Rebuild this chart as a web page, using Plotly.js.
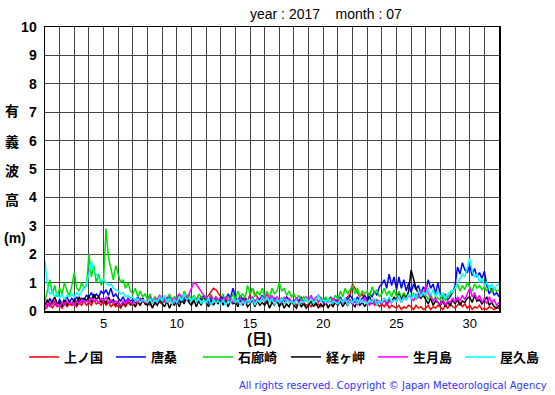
<!DOCTYPE html>
<html><head><meta charset="utf-8">
<script src="https://cdn.plot.ly/plotly-3.0.1.min.js"></script>
<style>html,body{margin:0;padding:0;background:#fff;}</style>
</head><body><div id="chart" style="width:555px;height:395px;"></div>
<script>
// Significant wave height, July 2017, sampled every 4 hours (6 per day), from day 1.0 to day 32.0
const stations = ["上ノ国", "唐桑", "石廊崎", "経ヶ岬", "生月島", "屋久島"];
const colors = ["#ff0000", "#0000ff", "#00dd00", "#000000", "#ff00ff", "#00ffff"];
const legendGroups = ["legend", "legend", "legend", "legend2", "legend2", "legend2"];
const samplesPerDay = 6;
const startDay = 1;
const xTickVals = [5, 10, 15, 20, 25, 30];
const xTickText = ["5", "10", "15", "20", "25", "30"];
const yTickVals = [0,1,2,3,4,5,6,7,8,9,10];

const kaminokuni = [
0.05,0.15,0.3,0.1,0.25,0.15, 0.2,0.1,0.3,0.15,0.25,0.2, 0.25,0.15,0.3,0.2,0.35,0.2, 0.3,0.2,0.4,0.25,0.3,0.2,
0.35,0.2,0.3,0.15,0.25,0.15, 0.2,0.1,0.25,0.15,0.3,0.2, 0.25,0.15,0.3,0.2,0.35,0.25, 0.3,0.2,0.4,0.25,0.35,0.3,
0.25,0.4,0.3,0.45,0.35,0.3, 0.35,0.45,0.3,0.5,0.4,0.35, 0.4,0.3,0.45,0.35,0.5,0.4, 0.45,0.55,0.7,0.8,0.75,0.6,
0.5,0.4,0.45,0.35,0.4,0.3, 0.35,0.25,0.4,0.3,0.45,0.35, 0.55,0.8,0.6,0.5,0.4,0.45, 0.35,0.5,0.3,0.45,0.35,0.4,
0.3,0.45,0.25,0.4,0.3,0.35, 0.3,0.2,0.35,0.25,0.3,0.2, 0.25,0.15,0.3,0.2,0.25,0.15, 0.2,0.3,0.15,0.25,0.2,0.3,
0.25,0.35,0.3,0.4,0.5,0.6, 0.95,0.8,0.7,0.5,0.6,0.4, 0.35,0.25,0.4,0.2,0.3,0.15, 0.25,0.15,0.3,0.1,0.2,0.15,
0.1,0.2,0.05,0.15,0.1,0.2, 0.15,0.05,0.2,0.1,0.15,0.05, 0.1,0.2,0.05,0.15,0.1,0.2, 0.15,0.05,0.2,0.1,0.25,0.15,
0.1,0.2,0.3,0.15,0.25,0.1, 0.2,0.05,0.15,0.1,0.2,0.05, 0.1,0.05,0.15,0.1,0.05,0.1, 0.1];

const karakuwa = [
0.3,0.2,0.45,0.25,0.35,0.2, 0.4,0.25,0.35,0.5,0.3,0.45, 0.35,0.5,0.3,0.45,0.4,0.55, 0.5,0.65,0.45,0.6,0.5,0.7,
0.6,0.75,0.55,0.8,0.5,0.6, 0.45,0.35,0.5,0.3,0.45,0.35, 0.4,0.3,0.5,0.35,0.45,0.3, 0.35,0.5,0.3,0.45,0.25,0.4,
0.3,0.45,0.35,0.5,0.3,0.4, 0.45,0.3,0.5,0.35,0.55,0.4, 0.35,0.5,0.3,0.45,0.4,0.55, 0.4,0.3,0.5,0.35,0.45,0.3,
0.35,0.5,0.4,0.6,0.45,0.8, 0.5,0.35,0.55,0.4,0.5,0.3, 0.35,0.5,0.3,0.45,0.4,0.55, 0.4,0.3,0.5,0.35,0.45,0.3,
0.35,0.45,0.3,0.5,0.4,0.35, 0.3,0.45,0.35,0.5,0.3,0.4, 0.35,0.5,0.3,0.45,0.55,0.4, 0.3,0.45,0.35,0.5,0.3,0.4,
0.35,0.5,0.3,0.45,0.4,0.55, 0.4,0.3,0.5,0.35,0.45,0.55, 0.4,0.6,0.5,0.7,0.55,0.85, 0.95,1.1,0.8,1.3,0.9,1.2,
0.75,1.2,0.8,1.1,0.7,1.0, 0.65,0.95,0.75,0.9,0.6,0.85, 0.7,1.1,0.8,0.95,0.6,1.0, 0.55,0.45,0.6,0.4,0.5,0.65,
0.9,1.55,1.3,1.7,1.45,1.35, 1.6,1.25,1.5,1.2,1.35,1.15, 1.4,0.9,0.6,0.8,0.55,0.65, 0.5];

const irozaki = [
0.35,0.7,1.1,0.6,0.9,0.5, 0.8,0.6,1.0,0.7,0.55,0.9, 1.35,0.8,0.7,1.0,0.8,0.9, 2.0,1.2,1.6,1.0,1.3,0.9,
1.1,2.9,1.9,1.5,1.1,1.6, 1.3,1.0,1.1,0.8,1.0,0.7, 0.6,0.8,0.5,0.7,0.5,0.6, 0.4,0.6,0.35,0.5,0.4,0.55,
0.3,0.5,0.4,0.6,0.35,0.5, 0.45,0.6,0.4,0.7,0.5,0.6, 0.4,0.55,0.35,0.6,0.5,0.4, 0.5,0.35,0.6,0.4,0.5,0.3,
0.45,0.6,0.3,0.5,0.4,0.6, 0.4,0.7,0.5,0.6,0.45,0.9, 0.6,0.8,0.5,0.7,0.55,0.8, 0.5,0.7,0.45,0.8,0.6,0.7,
1.0,0.7,0.8,0.55,0.7,0.5, 0.6,0.4,0.55,0.35,0.5,0.4, 0.3,0.5,0.35,0.45,0.3,0.5, 0.35,0.5,0.3,0.45,0.4,0.55,
0.4,0.7,0.5,0.8,0.6,0.75, 0.9,0.6,0.8,0.5,0.7,0.6, 0.7,0.5,0.85,0.6,0.75,0.5, 0.6,0.8,0.55,0.7,0.5,0.75,
0.5,0.7,0.45,0.65,0.5,0.6, 0.45,0.65,0.4,0.6,0.5,0.7, 0.55,0.4,0.6,0.35,0.5,0.45, 0.4,0.55,0.35,0.5,0.6,0.7,
0.8,0.95,0.7,0.9,0.75,1.0, 0.85,0.7,0.95,0.8,0.9,0.75, 0.85,0.7,0.9,0.65,0.8,0.7, 0.75];

const kyogamisaki = [
0.2,0.4,0.15,0.35,0.5,0.25, 0.3,0.15,0.45,0.2,0.35,0.25, 0.4,0.2,0.5,0.3,0.45,0.35, 0.55,0.3,0.6,0.4,0.5,0.3,
0.45,0.25,0.5,0.3,0.4,0.2, 0.35,0.15,0.3,0.2,0.4,0.25, 0.3,0.15,0.35,0.2,0.45,0.25, 0.2,0.35,0.1,0.3,0.2,0.4,
0.25,0.15,0.35,0.1,0.3,0.2, 0.35,0.15,0.4,0.25,0.5,0.3, 0.2,0.4,0.15,0.35,0.2,0.45, 0.3,0.15,0.4,0.2,0.35,0.25,
0.5,0.2,0.4,0.15,0.35,0.25, 0.3,0.15,0.4,0.2,0.35,0.15, 0.25,0.4,0.15,0.35,0.2,0.3, 0.2,0.35,0.1,0.3,0.2,0.4,
0.15,0.3,0.1,0.25,0.15,0.35, 0.2,0.1,0.3,0.15,0.25,0.1, 0.2,0.35,0.15,0.3,0.1,0.25, 0.15,0.3,0.1,0.25,0.15,0.3,
0.2,0.35,0.15,0.3,0.2,0.4, 0.25,0.15,0.35,0.2,0.3,0.15, 0.3,0.5,0.25,0.4,0.2,0.35, 0.25,0.45,0.2,0.4,0.3,0.5,
0.35,0.6,0.4,0.55,0.45,0.7, 1.45,1.1,0.8,0.6,0.45,0.55, 0.4,0.25,0.45,0.2,0.35,0.3, 0.2,0.35,0.15,0.3,0.2,0.4,
0.25,0.4,0.2,0.35,0.3,0.45, 0.5,0.3,0.55,0.35,0.4,0.25, 0.35,0.5,0.2,0.3,0.15,0.1, 0.2];

const ikitsukishima = [
0.1,0.3,0.15,0.25,0.35,0.2, 0.15,0.3,0.2,0.35,0.25,0.3, 0.2,0.35,0.25,0.4,0.3,0.35, 0.3,0.45,0.35,0.4,0.3,0.45,
0.35,0.5,0.3,0.4,0.25,0.35, 0.3,0.2,0.35,0.25,0.4,0.3, 0.25,0.4,0.3,0.45,0.35,0.3, 0.35,0.5,0.3,0.45,0.4,0.55,
0.4,0.3,0.5,0.35,0.45,0.3, 0.45,0.6,0.5,0.55,0.4,0.6, 0.75,1.0,0.95,0.8,0.65,0.55, 0.5,0.4,0.55,0.35,0.5,0.4,
0.45,0.3,0.5,0.35,0.45,0.3, 0.4,0.3,0.45,0.25,0.35,0.3, 0.35,0.5,0.3,0.45,0.35,0.4, 0.45,0.6,0.4,0.55,0.35,0.5,
0.4,0.3,0.5,0.35,0.45,0.3, 0.35,0.45,0.25,0.4,0.3,0.5, 0.4,0.55,0.35,0.5,0.3,0.45, 0.35,0.25,0.4,0.3,0.45,0.35,
0.3,0.45,0.25,0.4,0.3,0.35, 0.25,0.4,0.2,0.35,0.3,0.45, 0.3,0.2,0.35,0.25,0.4,0.3, 0.25,0.4,0.2,0.35,0.3,0.4,
0.35,0.5,0.3,0.45,0.4,0.55, 0.5,0.35,0.6,0.45,0.7,0.55, 0.9,0.6,0.5,0.35,0.45,0.3, 0.25,0.4,0.2,0.35,0.3,0.45,
0.3,0.5,0.35,0.55,0.4,0.6, 0.8,0.5,0.65,0.4,0.55,0.3, 0.45,0.25,0.5,0.3,0.4,0.2, 0.3];

const yakushima = [
1.75,0.9,0.6,0.7,0.5,0.65, 0.45,0.6,0.4,0.55,0.5,0.6, 0.5,0.65,0.55,0.7,0.8,0.95, 1.3,1.75,1.4,1.3,1.15,1.05,
1.1,1.0,0.9,0.95,0.8,0.75, 0.7,0.6,0.65,0.5,0.55,0.45, 0.5,0.35,0.45,0.3,0.4,0.35, 0.3,0.45,0.25,0.4,0.3,0.5,
0.35,0.55,0.3,0.45,0.25,0.4, 0.3,0.5,0.35,0.6,0.4,0.45, 0.35,0.5,0.3,0.45,0.25,0.4, 0.3,0.45,0.2,0.4,0.3,0.35,
0.25,0.4,0.2,0.35,0.3,0.45, 0.3,0.4,0.2,0.35,0.25,0.4, 0.3,0.45,0.2,0.4,0.3,0.5, 0.35,0.5,0.3,0.45,0.2,0.4,
0.3,0.45,0.25,0.4,0.3,0.35, 0.25,0.4,0.2,0.35,0.3,0.45, 0.3,0.45,0.25,0.4,0.55,0.35, 0.4,0.3,0.45,0.25,0.35,0.3,
0.25,0.4,0.3,0.45,0.2,0.35, 0.3,0.45,0.25,0.4,0.3,0.35, 0.25,0.4,0.3,0.45,0.2,0.35, 0.3,0.45,0.35,0.5,0.3,0.4,
0.35,0.55,0.3,0.5,0.4,0.6, 0.4,0.6,0.45,0.7,0.5,0.65, 0.6,0.8,0.55,0.75,0.5,0.7, 0.5,0.65,0.45,0.6,0.7,0.65,
0.8,0.95,1.1,1.3,1.2,1.5, 1.85,1.4,1.2,1.3,1.0,1.15, 0.9,1.0,0.8,0.95,0.75,0.9, 0.95];

const seriesValues = [kaminokuni, karakuwa, irozaki, kyogamisaki, ikitsukishima, yakushima];

const traces = seriesValues.map((vals, k) => ({
  type: "scatter", mode: "lines", name: stations[k], legend: legendGroups[k],
  x: vals.map((_, i) => startDay + i / samplesPerDay),
  y: vals,
  line: {color: colors[k], width: 1.5},
  hoverinfo: "skip"
}));

const sideChars = ["有", "義", "波", "高"];
const sideY = [110, 141, 170, 199];
const annotations = sideChars.map((c, i) => ({
  xref: "paper", yref: "paper", x: (12 - 45) / 454, xanchor: "center",
  y: 1 - (sideY[i] - 27) / 284, yanchor: "middle",
  text: c, showarrow: false,
  font: {family: "Noto Sans CJK JP", size: 14, color: "#000", weight: "bold"}
}));
annotations.push({
  xref: "paper", yref: "paper", x: (15 - 45) / 454, xanchor: "center",
  y: 1 - (238 - 27) / 284, yanchor: "middle",
  text: "(m)", showarrow: false,
  font: {family: "Liberation Sans", size: 14, color: "#000", weight: "bold"}
});
annotations.push({
  xref: "paper", yref: "paper", x: (259-45)/454, y: 1 - (338-27)/284, xanchor: "center", yanchor: "middle",
  text: "(日)", showarrow: false,
  font: {family: "Liberation Sans, Noto Sans CJK JP", size: 15, color: "#000", weight: "bold"}
});
annotations.push({
  xref: "paper", yref: "paper", x: (326-45)/454, y: 1 + (27-14)/284, xanchor: "center", yanchor: "middle",
  text: "year : 2017&nbsp;&nbsp;&nbsp;&nbsp;month : 07", showarrow: false,
  font: {family: "Liberation Sans", size: 14, color: "#000"}
});
annotations.push({
  xref: "paper", yref: "paper", x: (549-45)/454, y: 1 - (385-27)/284, xanchor: "right", yanchor: "middle",
  text: "All rights reserved. Copyright © Japan Meteorological Agency", showarrow: false,
  font: {family: "DejaVu Sans", size: 10, color: "#3333ff"}
});

const legendFont = {family: "Noto Sans CJK JP", size: 13, color: "#000", weight: "bold"};
const layout = {
  width: 555, height: 395,
  margin: {l: 45, r: 56, t: 27, b: 84, pad: 0},
  paper_bgcolor: "#fff", plot_bgcolor: "#fff",
  showlegend: true,
  legend: {
    orientation: "h", xref: "container", yref: "container",
    x: 24/555, xanchor: "left", y: 1 - 357/395, yanchor: "middle",
    entrywidth: 42, entrywidthmode: "pixels",
    font: legendFont, bgcolor: "rgba(0,0,0,0)", traceorder: "normal"
  },
  legend2: {
    orientation: "h", xref: "container", yref: "container",
    x: 286/555, xanchor: "left", y: 1 - 357/395, yanchor: "middle",
    entrywidth: 42, entrywidthmode: "pixels",
    font: legendFont, bgcolor: "rgba(0,0,0,0)", traceorder: "normal"
  },
  xaxis: {
    range: [1, 32], tickmode: "array", tickvals: xTickVals, ticktext: xTickText,
    showgrid: true, gridcolor: "#444", gridwidth: 1,
    minor: {dtick: 1, tick0: 1, showgrid: true, gridcolor: "#444", gridwidth: 1},
    showline: true, linecolor: "#000", linewidth: 1.5, mirror: true,
    ticks: "", zeroline: false, fixedrange: true,
    tickfont: {family: "Liberation Sans", size: 13, color: "#000"}
  },
  yaxis: {
    range: [0, 10], tickmode: "array", tickvals: yTickVals,
    showgrid: true, gridcolor: "#444", gridwidth: 1,
    showline: true, linecolor: "#000", linewidth: 1.5, mirror: true,
    ticks: "", zeroline: false, fixedrange: true, ticklabelstandoff: 4,
    tickfont: {family: "Liberation Sans", size: 14, color: "#000", weight: "bold"}
  },
  annotations: annotations
};

Plotly.newPlot("chart", traces, layout, {displayModeBar: false, staticPlot: true});
</script>
</body></html>
